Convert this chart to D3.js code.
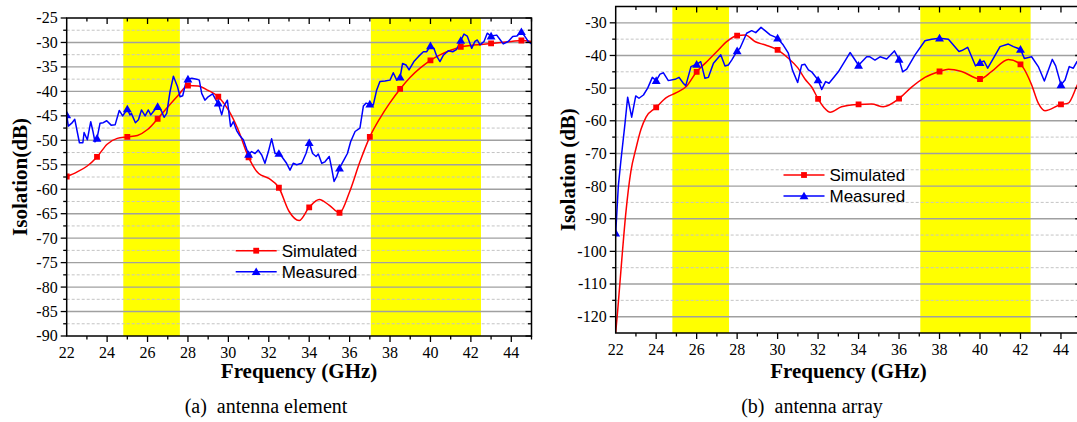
<!DOCTYPE html>
<html>
<head>
<meta charset="utf-8">
<script src="https://cdn.jsdelivr.net/npm/d3@7"></script>
<style>
  html, body { margin: 0; padding: 0; background: #fff; }
  svg { display: block; }
  .serif { font-family: "Liberation Serif", "Times New Roman", "DejaVu Serif", serif; }
  .sans { font-family: "Liberation Sans", Arial, sans-serif; }
</style>
</head>
<body>
<svg id="fig" width="1077" height="422"></svg>
<script>
// ---- (a) antenna element ----
const simFreqA = [22,22.5,23,23.5,24,24.5,25,25.5,26,26.5,27,27.5,28,28.5,29,29.5,30,30.5,31,31.5,32,32.5,33,33.5,34,34.5,35,35.5,36,36.5,37,37.5,38,38.5,39,39.5,40,40.5,41,41.5,42,42.5,43,43.5,44,44.5,45];
const simA = [-57.4,-56.5,-55.3,-53.4,-50.8,-49.6,-49.3,-49.0,-47.8,-45.6,-43.2,-40.9,-38.8,-38.9,-39.8,-41.1,-43.8,-48.0,-53.5,-56.8,-57.8,-59.7,-64.5,-66.4,-63.7,-62.1,-63.3,-64.8,-60.5,-54.5,-49.3,-45.5,-42.3,-39.5,-37.1,-35.2,-33.65,-32.5,-31.6,-30.9,-30.6,-30.4,-30.2,-30.0,-29.8,-29.6,-29.8];

const measFreqA = [22,22.08,22.25,22.4,22.63,22.8,22.86,23.02,23.19,23.3,23.4,23.5,23.65,23.81,23.98,24.2,24.4,24.6,24.77,25,25.13,25.2,25.4,25.55,25.7,25.88,26.04,26.16,26.29,26.5,26.58,26.7,26.82,26.95,27.11,27.28,27.48,27.61,27.74,27.94,28,28.19,28.43,28.56,28.68,28.84,29.0,29.22,29.39,29.5,29.67,29.78,29.95,30.11,30.25,30.41,30.54,30.74,31,31.15,31.32,31.48,31.65,31.81,31.98,32.14,32.31,32.5,32.64,32.88,33.05,33.21,33.38,33.63,33.84,34,34.17,34.34,34.45,34.62,34.78,34.99,35.11,35.23,35.36,35.5,35.72,35.89,36.05,36.27,36.51,36.68,36.81,37,37.17,37.34,37.5,37.75,38.0,38.16,38.33,38.5,38.62,38.79,38.94,39.18,39.4,39.65,39.81,40,40.17,40.31,40.47,40.64,40.88,41.1,41.3,41.5,41.66,41.82,42.04,42.2,42.32,42.45,42.65,42.81,43,43.28,43.44,43.6,43.85,44.07,44.27,44.5,44.68,44.84,45];
const measA = [-44.8,-47.1,-46.5,-45.7,-50.5,-50.5,-48.4,-49.9,-46.2,-48.2,-50.3,-49.6,-46.5,-46.4,-46.0,-46.9,-46.8,-43.9,-45.0,-43.6,-44.8,-44.5,-46.4,-45.8,-43.8,-45.0,-43.8,-44.8,-44.1,-43.1,-43.3,-44.1,-45.3,-44.5,-40.1,-36.9,-39.0,-41.1,-40.9,-37.5,-37.5,-37.3,-37.5,-37.7,-40.4,-41.8,-41.1,-40.5,-41.8,-42.4,-44.8,-43.0,-41.8,-47.2,-46.2,-48.0,-48.9,-49.9,-52.9,-52.3,-52.7,-52.0,-53.0,-54.7,-52.3,-49.7,-52.7,-52.7,-53.3,-54.7,-56.1,-54.7,-55.0,-54.7,-52.7,-50.5,-52.7,-53.3,-52.8,-54.7,-54.4,-53.3,-55.7,-58.4,-57.4,-55.7,-54.0,-52.7,-50.3,-48.2,-47.5,-43.0,-42.4,-42.6,-42.8,-39.7,-38.0,-37.9,-37.7,-36.2,-37.7,-37.1,-34.3,-34.6,-35.6,-33.9,-32.9,-31.9,-31.9,-30.7,-31.2,-32.8,-33.9,-32.6,-31.7,-31.9,-31.4,-29.6,-28.3,-28.7,-31.2,-29.8,-29.5,-30.5,-29.8,-28.1,-28.7,-28.5,-29.4,-30.3,-29.8,-28.8,-28.7,-27.8,-28.8,-29.8,-30.3];

const markFreqA = [22,23.5,25,26.5,28,29.5,31,32.5,34,35.5,37,38.5,40,41.5,43,44.5];

// ---- (b) antenna array ----
const simFreqB = [22,22.1,22.3,22.5,22.75,23,23.25,23.5,24,24.5,25,25.5,26,26.5,27,27.5,28,28.4,28.9,29.4,30,30.5,31,31.35,31.7,32,32.3,32.6,33.16,34,34.65,35.22,36,36.62,37.28,38,38.44,39.09,40,40.58,41.4,42,42.55,42.88,43.21,44,44.36,44.79,45];
const simB = [-124.8,-118,-102.6,-88.3,-75.5,-68.5,-62.6,-58.9,-55.9,-52.9,-51.4,-49.4,-45.0,-41.9,-38.8,-35.7,-33.9,-33.7,-35.8,-36.8,-38.3,-40.7,-43.8,-47.2,-49.8,-53.3,-56.0,-57.4,-55.7,-55.0,-54.9,-55.7,-53.2,-49.7,-46.7,-44.9,-44.2,-44.9,-47.2,-44.9,-41.2,-42.7,-49.0,-54.6,-56.9,-55.0,-54.6,-49.3,-46.5];

const measFreqB = [22,22.13,22.26,22.46,22.59,22.79,22.99,23.15,23.37,23.58,23.81,24,24.19,24.36,24.6,24.93,25.13,25.34,25.46,25.72,26,26.2,26.41,26.58,26.83,27.19,27.4,27.57,27.73,28,28.14,28.47,28.72,28.92,29.18,29.38,29.63,30,30.28,30.53,30.73,30.99,31.19,31.35,31.52,31.68,32,32.18,32.37,32.54,33.0,33.58,34,34.4,34.56,34.81,35.06,35.39,35.77,36,36.18,36.38,36.79,37.28,37.61,38,38.44,38.96,39.1,39.39,39.78,40,40.2,40.38,40.66,40.99,41.4,41.65,42,42.19,42.55,42.88,43.18,43.57,43.74,44,44.2,44.41,44.61,44.79,45];
const measB = [-94.4,-80,-72.0,-60.8,-52.8,-58.9,-52.4,-53.1,-52.1,-50.0,-46.7,-47.7,-45.7,-45.3,-47.7,-47.3,-46.7,-48.5,-49.3,-43.4,-42.7,-41.9,-47.0,-46.7,-42.4,-39.8,-43.2,-42.9,-41.4,-38.6,-37.8,-33.2,-32.4,-33.0,-31.4,-32.4,-33.7,-34.7,-36.8,-39.3,-44.4,-48.3,-42.9,-42.7,-44.4,-45.0,-47.5,-50.4,-48.0,-48.5,-45.0,-39.1,-43.0,-40.4,-40.4,-41.4,-40.4,-41.1,-38.6,-41.2,-45.0,-44.2,-39.8,-35.5,-35.0,-34.7,-35.0,-38.8,-38.5,-37.5,-43.2,-42.2,-41.7,-43.9,-40.9,-37.3,-36.5,-37.3,-38.1,-40.9,-40.4,-43.4,-47.8,-41.2,-43.2,-49.0,-47.5,-43.4,-43.9,-41.9,-41.0];

const simMarkFreqB = [24,26,28,30,32,34,36,38,40,42,44];
const measMarkFreqB = [22,24,26,28,30,32,34,36,38,40,42,44];

// shared
const xTicks = [22,24,26,28,30,32,34,36,38,40,42,44];
const bands = [[24.8,27.6],[37.05,42.5]];
const yTicksA = [-25,-30,-35,-40,-45,-50,-55,-60,-65,-70,-75,-80,-85,-90];
const yTicksB = [-30,-40,-50,-60,-70,-80,-90,-100,-110,-120];
const seriesNames = ["Simulated","Measured"];
const captions = ["(a)\u00a0\u00a0antenna element","(b)\u00a0\u00a0antenna array"];
const yTitles = ["Isolation(dB)","Isolation (dB)"];
const xTitle = "Frequency (GHz)";

const RED = "#ff0000", BLUE = "#0000ff", YELLOW = "#ffff00";
const svg = d3.select("#fig");
svg.append("rect").attr("width",1077).attr("height",422).attr("fill","#fff");

function pick(freqs, vals, marks) {
  return marks.map(m => {
    const i = freqs.findIndex(f => Math.abs(f - m) < 1e-6);
    return [m, vals[i]];
  });
}

function panel(o) {
  const x = d3.scaleLinear().domain([22,45]).range([o.left,o.right]);
  const y = d3.scaleLinear().domain(o.yDomain).range([o.bottom,o.top]);
  const g = svg.append("g");

  // highlighted bands
  bands.forEach(b => {
    g.append("rect").attr("x",x(b[0])).attr("y",o.top)
      .attr("width",x(b[1])-x(b[0])).attr("height",o.bottom-o.top)
      .attr("fill",YELLOW);
  });

  // grid
  o.minor.forEach(v => {
    g.append("line").attr("x1",o.left).attr("x2",o.right).attr("y1",y(v)).attr("y2",y(v))
      .attr("stroke","#c4c4c4").attr("stroke-width",1).attr("stroke-dasharray","3,2");
  });
  o.major.filter(v => v > o.yDomain[0] && v < o.yDomain[1]).forEach(v => {
    g.append("line").attr("x1",o.left).attr("x2",o.right).attr("y1",y(v)).attr("y2",y(v))
      .attr("stroke","#a0a0a0").attr("stroke-width",1.4);
  });

  // curves
  const clipId = "clip" + o.id;
  svg.append("clipPath").attr("id",clipId).append("rect")
    .attr("x",o.left).attr("y",o.top-1).attr("width",o.right-o.left).attr("height",o.bottom-o.top+2);
  const cg = g.append("g").attr("clip-path",`url(#${clipId})`);

  const simPts = o.simF.map((f,i) => [f,o.sim[i]]);
  const measPts = o.measF.map((f,i) => [f,o.meas[i]]);
  cg.append("path").datum(simPts)
    .attr("d", d3.line().x(d=>x(d[0])).y(d=>y(d[1])).curve(d3.curveMonotoneX))
    .attr("fill","none").attr("stroke",RED).attr("stroke-width",1.5);
  cg.append("path").datum(measPts)
    .attr("d", d3.line().x(d=>x(d[0])).y(d=>y(d[1])))
    .attr("fill","none").attr("stroke",BLUE).attr("stroke-width",1.5).attr("stroke-linejoin","round");

  const sq = d3.symbol().type(d3.symbolSquare).size(34);
  const tri = d3.symbol().type(d3.symbolTriangle).size(34);
  cg.selectAll(null).data(pick(o.simF,o.sim,o.simMarks)).join("path")
    .attr("d",sq).attr("transform",d=>`translate(${x(d[0])},${y(d[1])})`).attr("fill",RED);
  cg.selectAll(null).data(pick(o.measF,o.meas,o.measMarks)).join("path")
    .attr("d",tri).attr("transform",d=>`translate(${x(d[0])},${y(d[1])+0.8})`).attr("fill",BLUE);

  // frame
  g.append("rect").attr("x",o.left).attr("y",o.top).attr("width",o.right-o.left).attr("height",o.bottom-o.top)
    .attr("fill","none").attr("stroke","#000").attr("stroke-width",1.5);

  // ticks
  const tk = (x1,y1,x2,y2,w) => g.append("line").attr("x1",x1).attr("y1",y1).attr("x2",x2).attr("y2",y2)
      .attr("stroke","#000").attr("stroke-width",w||1.3);
  for (let f = 23; f <= 45; f++) {
    const major = f % 2 === 0;
    const L = major ? 6 : 3.5;
    tk(x(f), o.bottom, x(f), o.bottom + L);
    tk(x(f), o.top, x(f), o.top + L);
  }
  o.major.forEach(v => { tk(o.left - 6, y(v), o.left, y(v)); tk(o.right, y(v), o.right - 6, y(v)); });
  o.minor.forEach(v => { tk(o.left - 3.5, y(v), o.left, y(v)); tk(o.right, y(v), o.right - 3.5, y(v)); });

  // tick labels
  g.selectAll(null).data(xTicks).join("text").attr("class","serif")
    .attr("x",d=>x(d)).attr("y",o.bottom+22).attr("text-anchor","middle")
    .attr("font-size",16).text(d=>d);
  g.selectAll(null).data(o.labels).join("text").attr("class","serif")
    .attr("x",o.left-9).attr("y",d=>y(d)).attr("dy","0.34em").attr("text-anchor","end")
    .attr("font-size",16).text(d=>d);

  // titles
  g.append("text").attr("class","serif").attr("x",(o.left+o.right)/2).attr("y",378).attr("text-anchor","middle")
    .attr("font-weight","bold").attr("font-size",21).text(xTitle);
  g.append("text").attr("class","serif").attr("transform",`translate(${o.yTitleX},${(o.top+o.bottom)/2}) rotate(-90)`)
    .attr("text-anchor","middle").attr("font-weight","bold").attr("font-size",21)
    .text(o.yTitle);
  g.append("text").attr("class","serif").attr("x",o.capX).attr("y",413).attr("text-anchor","middle")
    .attr("font-size",20).text(o.caption);

  // legend
  [[RED,sq],[BLUE,tri]].forEach((s,i) => {
    const ly = o.legY + i*21;
    g.append("line").attr("x1",o.legX).attr("x2",o.legX+41).attr("y1",ly).attr("y2",ly)
      .attr("stroke",s[0]).attr("stroke-width",1.5);
    g.append("path").attr("d",s[1]).attr("transform",`translate(${o.legX+20.5},${ly + (i?0.8:0)})`).attr("fill",s[0]);
    g.append("text").attr("class","sans").attr("x",o.legX+46).attr("y",ly).attr("dy","0.36em")
      .attr("font-size",17).text(seriesNames[i]);
  });
}

panel({
  id:"a", left:66.7, right:531.5, top:18, bottom:336, yDomain:[-90,-25],
  major:yTicksA,
  minor:[-27.5,-32.5,-37.5,-42.5,-47.5,-52.5,-57.5,-62.5,-67.5,-72.5,-77.5,-82.5,-87.5],
  labels:yTicksA,
  simF:simFreqA, sim:simA, measF:measFreqA, meas:measA,
  simMarks:markFreqA, measMarks:markFreqA,
  yTitle:yTitles[0], yTitleX:27, caption:captions[0], capX:266,
  legX:235.7, legY:250.7
});

panel({
  id:"b", left:615.7, right:1081.2, top:6.5, bottom:333, yDomain:[-125,-25],
  major:yTicksB,
  minor:[-35,-45,-55,-65,-75,-85,-95,-105,-115],
  labels:yTicksB,
  simF:simFreqB, sim:simB, measF:measFreqB, meas:measB,
  simMarks:simMarkFreqB, measMarks:measMarkFreqB,
  yTitle:yTitles[1], yTitleX:575, caption:captions[1], capX:812,
  legX:783.5, legY:175
});
</script>
</body>
</html>
